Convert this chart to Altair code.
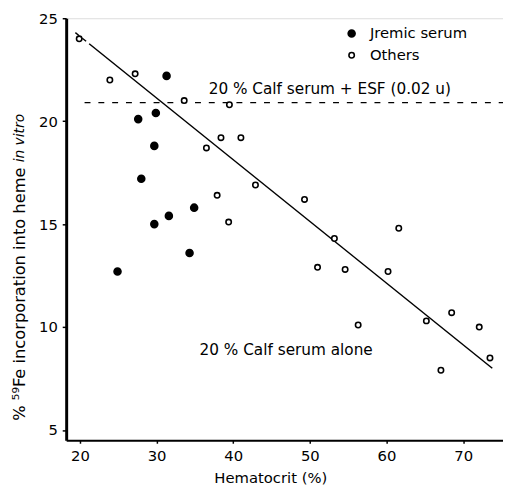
import altair as alt
import pandas as pd

# ---- data ----
uremic_x = [31.3, 27.6, 29.9, 29.7, 28.0, 34.9, 31.6, 29.7, 34.3, 24.9]
uremic_y = [22.2, 20.1, 20.4, 18.8, 17.2, 15.8, 15.4, 15.0, 13.6, 12.7]

others_x = [19.9, 23.9, 27.2, 33.6, 39.5, 38.4, 41.0, 36.5, 37.9, 39.4, 42.9, 49.3,
            61.6, 53.2, 51.0, 54.6, 60.2, 56.3, 65.2, 68.5, 72.1, 73.5, 67.1]
others_y = [24.0, 22.0, 22.3, 21.0, 20.8, 19.2, 19.2, 18.7, 16.4, 15.1, 16.9, 16.2,
            14.8, 14.3, 12.9, 12.8, 12.7, 10.1, 10.3, 10.7, 10.0, 8.5, 7.9]

groups = ["Jremic serum", "Others"]

# regression line (dashed start, then solid)
fit_dash_x = [19.4, 21.2]
fit_dash_y = [24.3, 23.76]
fit_solid_x = [21.2, 73.8]
fit_solid_y = [23.76, 8.0]

# horizontal reference level: 20 % calf serum + ESF
esf_level = 20.9
esf_x = [20.6, 75.2]

x_ticks = [20, 30, 40, 50, 60, 70]
y_ticks = [5, 10, 15, 20, 25]

annotations = ["20 % Calf serum + ESF (0.02 u)", "20 % Calf serum alone"]
annot_x = [52.6, 46.9]
annot_y = [21.55, 8.9]

FONT = "DejaVu Sans"
XDOM = [18.2, 75.2]
YDOM = [4.5, 25]

pts = pd.DataFrame({
    "hct": uremic_x + others_x,
    "fe": uremic_y + others_y,
    "group": [groups[0]] * len(uremic_x) + [groups[1]] * len(others_x),
})

xs = alt.Scale(domain=XDOM, nice=False, zero=False)
ys = alt.Scale(domain=YDOM, nice=False, zero=False)

x_axis = alt.Axis(values=x_ticks, title="Hematocrit (%)", grid=False,
                  domainColor="black", domainWidth=2, tickColor="black", tickSize=3,
                  tickWidth=1.5, labelFont=FONT, labelFontSize=15, labelColor="black",
                  labelPadding=6, titleFont=FONT, titleFontSize=15, titleFontWeight="normal",
                  titleColor="black", titleX=207, titleY=31, titleAnchor="middle")
y_axis = alt.Axis(values=y_ticks, title=None, grid=False,
                  domainColor="black", domainWidth=3, tickColor="black", tickSize=4,
                  tickWidth=1.5, labelFont=FONT, labelFontSize=15, labelColor="black",
                  labelPadding=5)

leg = alt.Legend(title=None, orient="none", legendX=282, legendY=8,
                 labelFont=FONT, labelFontSize=15, labelColor="black",
                 symbolStrokeWidth=1.6, labelOffset=11, rowPadding=6, padding=0)

points = alt.Chart(pts).mark_point(shape="circle", filled=True,
                                   strokeWidth=1.6, opacity=1).encode(
    x=alt.X("hct:Q", scale=xs, axis=x_axis),
    y=alt.Y("fe:Q", scale=ys, axis=y_axis),
    fill=alt.Fill("group:N", scale=alt.Scale(domain=groups, range=["black", "white"]),
                  legend=leg),
    stroke=alt.Stroke("group:N", scale=alt.Scale(domain=groups, range=["black", "black"]),
                      legend=leg),
    size=alt.Size("group:N", scale=alt.Scale(domain=groups, range=[50, 30]),
                  legend=leg),
)

dash_df = pd.DataFrame({"hct": fit_dash_x, "fe": fit_dash_y})
solid_df = pd.DataFrame({"hct": fit_solid_x, "fe": fit_solid_y})

fit_dash = alt.Chart(dash_df).mark_line(color="black", strokeWidth=1.4,
                                        strokeDash=[5, 4]).encode(
    x=alt.X("hct:Q", scale=xs), y=alt.Y("fe:Q", scale=ys))
fit_solid = alt.Chart(solid_df).mark_line(color="black", strokeWidth=1.5).encode(
    x=alt.X("hct:Q", scale=xs), y=alt.Y("fe:Q", scale=ys))

esf_df = pd.DataFrame({"x1": [esf_x[0]], "x2": [esf_x[1]], "y": [esf_level]})
esf_rule = alt.Chart(esf_df).mark_rule(color="black", strokeWidth=1.3,
                                       strokeDash=[6, 8]).encode(
    x=alt.X("x1:Q", scale=xs), x2="x2:Q", y=alt.Y("y:Q", scale=ys))

ann_df = pd.DataFrame({"label": annotations, "x": annot_x, "y": annot_y})
ann = alt.Chart(ann_df).mark_text(font=FONT, fontSize=15.5, color="black",
                                  align="center", baseline="middle").encode(
    x=alt.X("x:Q", scale=xs), y=alt.Y("y:Q", scale=ys), text="label:N")

# y-axis title as rotated text (normal part + italic "in vitro")
ytitle_df = pd.DataFrame({"label": ["% \u2075\u2079Fe incorporation into heme"],
                          "x": [12.15], "y": [17.75]})
ytitle = alt.Chart(ytitle_df).mark_text(font=FONT, fontSize=16.5, color="black", angle=270,
                                        align="right", baseline="middle").encode(
    x=alt.X("x:Q", scale=xs), y=alt.Y("y:Q", scale=ys), text="label:N")
yital_df = pd.DataFrame({"label": ["in vitro"], "x": [12.15], "y": [18.0]})
yital = alt.Chart(yital_df).mark_text(font=FONT, fontSize=14, color="black", angle=270,
                                      fontStyle="italic", align="left",
                                      baseline="middle").encode(
    x=alt.X("x:Q", scale=xs), y=alt.Y("y:Q", scale=ys), text="label:N")

chart = alt.layer(esf_rule, fit_dash, fit_solid, points, ann, ytitle, yital).properties(
    width=443, height=428,
    autosize=alt.AutoSizeParams(type="none"),
    padding={"left": 59, "top": 7, "right": 0, "bottom": 45},
).configure_view(stroke=None).configure(background="white")

chart.save("out.html", embed_options={"renderer": "svg", "actions": False})
